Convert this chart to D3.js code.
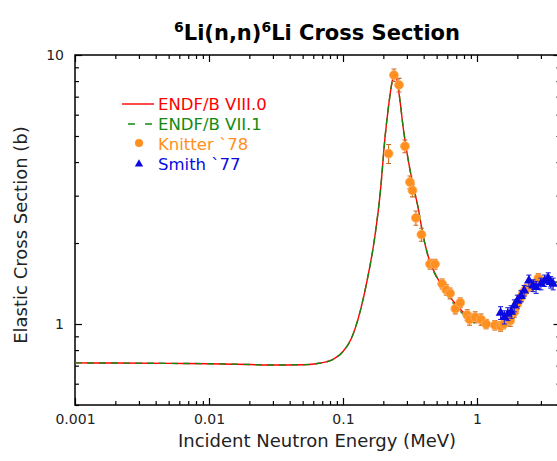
<!DOCTYPE html>
<html>
<head>
<meta charset="utf-8">
<script src="https://cdn.jsdelivr.net/npm/d3@7"></script>
<style>
  body { margin: 0; background: #fff; }
  text { font-family: "DejaVu Sans", sans-serif; }
</style>
</head>
<body>
<svg id="grafico" width="557" height="461"></svg>
<script>
// Evaluated curves (MeV, barns)
let energia = [0.001, 0.002, 0.005, 0.01, 0.02, 0.03, 0.05, 0.063, 0.075, 0.085, 0.1, 0.115, 0.13, 0.15, 0.173, 0.19, 0.206, 0.22, 0.232, 0.24, 0.248, 0.257, 0.268, 0.281, 0.3, 0.316, 0.34, 0.363, 0.395, 0.446, 0.5, 0.6, 0.7, 0.85, 1.0, 1.15, 1.3, 1.5, 1.7, 1.86, 2.0, 2.2, 2.4, 2.62, 3.0, 3.5, 4.2];
let endf8 = [0.717, 0.716, 0.714, 0.712, 0.707, 0.704, 0.706, 0.712, 0.723, 0.74, 0.79, 0.88, 1.05, 1.42, 2.12, 3.1, 4.95, 6.6, 7.9, 8.4, 8.35, 7.7, 6.6, 5.4, 4.35, 3.75, 3.15, 2.72, 2.15, 1.7, 1.5, 1.3, 1.18, 1.07, 1.02, 1.0, 0.985, 0.975, 0.995, 1.04, 1.11, 1.23, 1.32, 1.38, 1.42, 1.43, 1.43];
let endf7 = [0.717, 0.716, 0.714, 0.712, 0.707, 0.704, 0.706, 0.712, 0.723, 0.74, 0.79, 0.88, 1.05, 1.42, 2.12, 3.1, 4.95, 6.6, 7.9, 8.4, 8.35, 7.7, 6.6, 5.4, 4.35, 3.75, 3.15, 2.72, 2.15, 1.69, 1.49, 1.28, 1.16, 1.05, 1.0, 0.985, 0.975, 0.97, 0.99, 1.04, 1.12, 1.24, 1.33, 1.38, 1.42, 1.43, 1.43];

// Knitter `78
let knitterE = [0.219, 0.24, 0.262, 0.29, 0.316, 0.33, 0.35, 0.385, 0.446, 0.486, 0.55, 0.59, 0.63, 0.69, 0.75, 0.846, 0.88, 0.97, 1.07, 1.17, 1.36, 1.5, 1.58, 1.77, 1.9, 2.0, 2.13, 2.22, 2.33, 2.55, 2.87];
let knitterSig = [4.3, 8.42, 7.74, 4.58, 3.37, 3.14, 2.48, 2.15, 1.67, 1.67, 1.41, 1.34, 1.3, 1.14, 1.2, 1.08, 1.04, 1.06, 1.04, 1.0, 0.99, 0.98, 1.0, 1.03, 1.11, 1.19, 1.26, 1.31, 1.35, 1.39, 1.48];
let knitterErr = [0.35, 0.45, 0.45, 0.25, 0.18, 0.17, 0.15, 0.12, 0.07, 0.07, 0.06, 0.06, 0.06, 0.05, 0.05, 0.05, 0.05, 0.05, 0.05, 0.04, 0.04, 0.04, 0.04, 0.05, 0.05, 0.05, 0.05, 0.05, 0.05, 0.06, 0.06];

// Smith `77
let smithE = [1.5, 1.6, 1.7, 1.8, 1.9, 2.0, 2.13, 2.25, 2.44, 2.62, 2.76, 3.0, 3.2, 3.4, 3.55, 3.7];
let smithSig = [1.1, 1.06, 1.09, 1.11, 1.17, 1.22, 1.27, 1.33, 1.45, 1.39, 1.37, 1.41, 1.45, 1.48, 1.43, 1.41];
let smithErr = [0.06, 0.06, 0.06, 0.06, 0.06, 0.06, 0.06, 0.06, 0.07, 0.07, 0.07, 0.07, 0.07, 0.07, 0.07, 0.07];

let xMaiores = [0.001, 0.01, 0.1, 1];
let yMaiores = [1, 10];

let svg = d3.select("#grafico");
let esq = 75, dir = 560.5, topo = 55, base = 405;

let fnX = d3.scaleLog().domain([0.001, 4.2]).range([esq, dir]);
let fnY = d3.scaleLog().domain([0.5, 10]).range([base, topo]);

let xMenores = fnX.ticks().filter((d) => !xMaiores.some((m) => Math.abs(m - d) < 1e-9));
let yMenores = fnY.ticks().filter((d) => !yMaiores.some((m) => Math.abs(m - d) < 1e-9));

svg.append("defs").append("clipPath").attr("id", "clip")
  .append("rect").attr("x", esq).attr("y", topo).attr("width", dir - esq).attr("height", base - topo);

// Eixos
function eixo(gerador, transform) {
  let g = svg.append("g").attr("transform", transform).call(gerador);
  g.select(".domain").remove();
  g.selectAll("line").attr("stroke", "#000").attr("stroke-width", 1.2);
  g.selectAll("text").attr("font-size", 14).attr("fill", "#222");
  return g;
}
let fmt = (d) => (d >= 1 ? d3.format("d")(d) : String(+d.toPrecision(1)));
eixo(d3.axisBottom(fnX).tickValues(xMaiores).tickSize(-7).tickPadding(9).tickFormat(fmt), `translate(0,${base})`);
eixo(d3.axisBottom(fnX).tickValues(xMenores).tickSize(-4).tickFormat(""), `translate(0,${base})`);
eixo(d3.axisTop(fnX).tickValues(xMaiores).tickSize(-7).tickFormat(""), `translate(0,${topo})`);
eixo(d3.axisTop(fnX).tickValues(xMenores).tickSize(-4).tickFormat(""), `translate(0,${topo})`);
eixo(d3.axisLeft(fnY).tickValues(yMaiores).tickSize(-7).tickPadding(11).tickFormat(d3.format("d")), `translate(${esq},0)`);
eixo(d3.axisLeft(fnY).tickValues(yMenores).tickSize(-4).tickFormat(""), `translate(${esq},0)`);
eixo(d3.axisRight(fnY).tickValues(yMaiores).tickSize(-7).tickFormat(""), `translate(${dir},0)`);
eixo(d3.axisRight(fnY).tickValues(yMenores).tickSize(-4).tickFormat(""), `translate(${dir},0)`);

svg.append("rect").attr("x", esq).attr("y", topo).attr("width", dir - esq).attr("height", base - topo)
  .attr("fill", "none").attr("stroke", "#000").attr("stroke-width", 1.5);

// Curvas
let linha = d3.line().x((d) => fnX(d[0])).y((d) => fnY(d[1])).curve(d3.curveMonotoneX);
let plot = svg.append("g").attr("clip-path", "url(#clip)");
plot.append("path").datum(d3.zip(energia, endf8)).attr("d", linha)
  .attr("fill", "none").attr("stroke", "#ff0000").attr("stroke-width", 1.4);
plot.append("path").datum(d3.zip(energia, endf7)).attr("d", linha)
  .attr("fill", "none").attr("stroke", "#128a12").attr("stroke-width", 1.4).attr("stroke-dasharray", "7,5");

// Dados experimentais
function barras(E, s, e, cor) {
  let dados = d3.zip(E, s, e);
  let g = plot.append("g").attr("stroke", cor).attr("stroke-width", 1.1);
  g.selectAll(".eb").data(dados).enter().append("line")
    .attr("x1", (d) => fnX(d[0])).attr("x2", (d) => fnX(d[0]))
    .attr("y1", (d) => fnY(d[1] - d[2])).attr("y2", (d) => fnY(d[1] + d[2]));
  g.selectAll(".cap1").data(dados).enter().append("line")
    .attr("x1", (d) => fnX(d[0]) - 2.5).attr("x2", (d) => fnX(d[0]) + 2.5)
    .attr("y1", (d) => fnY(d[1] + d[2])).attr("y2", (d) => fnY(d[1] + d[2]));
  g.selectAll(".cap2").data(dados).enter().append("line")
    .attr("x1", (d) => fnX(d[0]) - 2.5).attr("x2", (d) => fnX(d[0]) + 2.5)
    .attr("y1", (d) => fnY(d[1] - d[2])).attr("y2", (d) => fnY(d[1] - d[2]));
}
barras(knitterE, knitterSig, knitterErr, "#c96a1e");
plot.selectAll(".knitter").data(d3.zip(knitterE, knitterSig)).enter().append("circle")
  .attr("cx", (d) => fnX(d[0])).attr("cy", (d) => fnY(d[1])).attr("r", 4.5)
  .attr("fill", "#ff9020").attr("stroke", "#ffb060").attr("stroke-width", 0.8);

barras(smithE, smithSig, smithErr, "#2020d8");
let tri = d3.symbol().type(d3.symbolTriangle).size(42);
plot.selectAll(".smith").data(d3.zip(smithE, smithSig)).enter().append("path")
  .attr("d", tri).attr("transform", (d) => `translate(${fnX(d[0])},${fnY(d[1])})`)
  .attr("fill", "#0a0ae0");

// Legenda
let leg = svg.append("g").attr("font-size", 16.5);
leg.append("line").attr("x1", 122).attr("x2", 154).attr("y1", 104).attr("y2", 104).attr("stroke", "#ff0000").attr("stroke-width", 1.4);
leg.append("text").attr("x", 158).attr("y", 110).attr("fill", "#ff0000").text("ENDF/B VIII.0");
leg.append("line").attr("x1", 128).attr("x2", 154).attr("y1", 124).attr("y2", 124).attr("stroke", "#128a12").attr("stroke-width", 1.4).attr("stroke-dasharray", "7,10");
leg.append("text").attr("x", 158).attr("y", 130).attr("fill", "#128a12").text("ENDF/B VII.1");
leg.append("circle").attr("cx", 139).attr("cy", 143).attr("r", 4).attr("fill", "#ff9020");
leg.append("text").attr("x", 158).attr("y", 150).attr("fill", "#ff9020").text("Knitter `78");
leg.append("path").attr("d", d3.symbol().type(d3.symbolTriangle).size(30)).attr("transform", "translate(139,164)").attr("fill", "#0a0ae0");
leg.append("text").attr("x", 158).attr("y", 170).attr("fill", "#0a0ae0").text("Smith `77");

// Títulos
let titulo = svg.append("text").attr("x", 317).attr("y", 40).attr("text-anchor", "middle")
  .attr("font-size", 21).attr("font-weight", "bold").attr("fill", "#000");
titulo.append("tspan").attr("font-size", 14).attr("dy", -8).text("6");
titulo.append("tspan").attr("dy", 8).text("Li(n,n)");
titulo.append("tspan").attr("font-size", 14).attr("dy", -8).text("6");
titulo.append("tspan").attr("dy", 8).text("Li Cross Section");

svg.append("text").attr("x", 317).attr("y", 447).attr("text-anchor", "middle")
  .attr("font-size", 18).attr("fill", "#222").text("Incident Neutron Energy (MeV)");
svg.append("text").attr("transform", "translate(27,235) rotate(-90)").attr("text-anchor", "middle")
  .attr("font-size", 18).attr("fill", "#222").text("Elastic Cross Section (b)");
</script>
</body>
</html>
